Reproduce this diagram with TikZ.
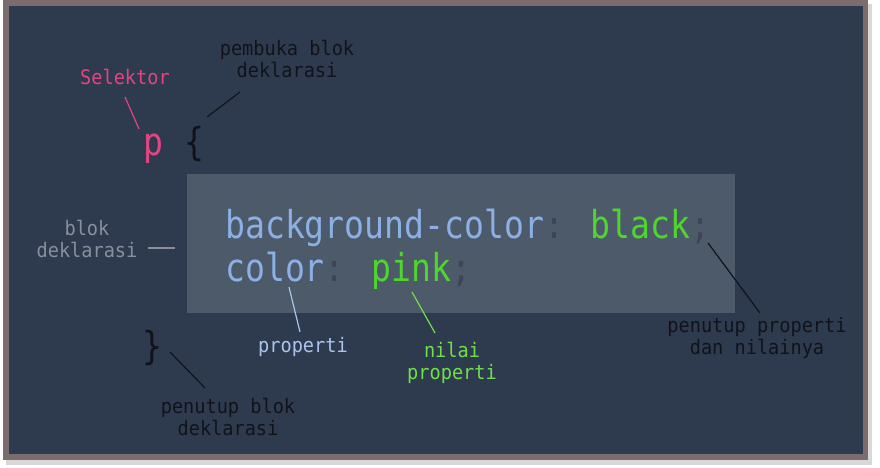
\documentclass[tikz,border=0pt]{standalone}
\usepackage{fontspec}
\newfontfamily\codefont[FakeStretch=0.86]{DejaVu Sans Mono}
\newfontfamily\labfont[FakeStretch=0.93]{DejaVu Sans Mono}
\definecolor{pagebg}{HTML}{FFFFFF}
\definecolor{shadowc}{HTML}{D8D8D8}
\definecolor{framec}{HTML}{7B6D6D}
\definecolor{bgc}{HTML}{2E3B4F}
\definecolor{boxc}{HTML}{4D5A6A}
\definecolor{pinkc}{HTML}{E2457F}
\definecolor{propc}{HTML}{8BB0E6}
\definecolor{valc}{HTML}{4FD62E}
\definecolor{punc}{HTML}{3A4656}
\definecolor{darkc}{HTML}{111318}
\definecolor{grayc}{HTML}{8A8F99}
\definecolor{proplab}{HTML}{A9C5EE}
\definecolor{vallab}{HTML}{6FE048}
\tikzset{
  code/.style={anchor=base west, inner sep=0pt, font=\codefont\fontsize{38.5}{40}\selectfont},
  lab/.style={inner sep=0pt, align=center, font=\labfont\fontsize{20}{22}\selectfont},
  conn/.style={line width=1.2pt},
}
\begin{document}
\begin{tikzpicture}[x=1pt,y=-1pt]
\useasboundingbox (0,0) rectangle (880,467);
\fill[pagebg] (0,0) rectangle (880,467);
\fill[shadowc] (6,4) rectangle (872,465);
\fill[framec] (3,0) rectangle (868,460);
\fill[bgc] (9,6) rectangle (863,454);
\fill[boxc] (187,174) rectangle (735,313);

% code
\node[code] (l1) at (225,238) {\textcolor{propc}{background-color}\textcolor{punc}{:} \textcolor{valc}{black}\textcolor{punc}{;}};
\node[code] (l2) at (225,281) {\textcolor{propc}{color}\textcolor{punc}{:} \textcolor{valc}{pink}\textcolor{punc}{;}};
\node[code, text=pinkc] (sel) at (143,155) {p};
\node[code, text=darkc] (open) at (184,155) {\{};
\node[code, text=darkc] (close) at (142,359) {\}};

% labels
\node[lab, text=pinkc] (selab) at (125,77) {Selektor};
\node[lab, text=darkc] (openlab) at (287,59) {pembuka blok\\deklarasi};
\node[lab, text=grayc] (bloklab) at (87,239) {blok\\deklarasi};
\node[lab, text=proplab] (proplb) at (303,347) {properti};
\node[lab, text=vallab] (vallb) at (452,363) {nilai\\properti};
\node[lab, text=darkc] (semilab) at (757,338) {penutup properti\\dan nilainya};
\node[lab, text=darkc] (closelab) at (228,417) {penutup blok\\deklarasi};

% connector ends
\coordinate (s1) at (125,97);   \coordinate (s2) at (139,129);
\coordinate (o1) at (240,92);   \coordinate (o2) at (207,117);
\coordinate (b1) at (148,248);  \coordinate (b2) at (175,248);
\coordinate (p1) at (289,287);  \coordinate (p2) at (300,332);
\coordinate (v1) at (412,292);  \coordinate (v2) at (435,333);
\coordinate (c1) at (708,243);  \coordinate (c2) at (760,313);
\coordinate (e1) at (170,352);  \coordinate (e2) at (205,388);

\draw[conn, pinkc] (s1) -- (s2);
\draw[conn, darkc] (o1) -- (o2);
\draw[conn, grayc] (b1) -- (b2);
\draw[conn, proplab] (p1) -- (p2);
\draw[conn, vallab] (v1) -- (v2);
\draw[conn, darkc] (c1) -- (c2);
\draw[conn, darkc] (e1) -- (e2);
\end{tikzpicture}
\end{document}
